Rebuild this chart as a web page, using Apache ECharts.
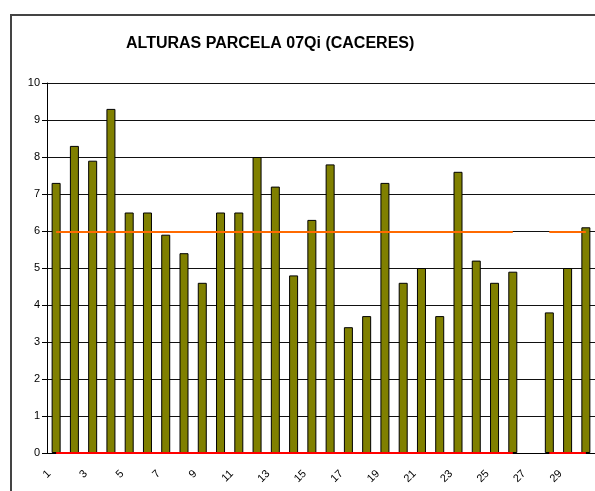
<!DOCTYPE html>
<html>
<head>
<meta charset="utf-8">
<script src="https://cdn.jsdelivr.net/npm/echarts@6/dist/echarts.min.js"></script>
<style>
  html, body { margin: 0; padding: 0; background: #fff; }
  #chart { width: 595px; height: 491px; }
</style>
</head>
<body>
<div id="chart"></div>
<script>
const categories = ['1','2','3','4','5','6','7','8','9','10','11','12','13','14','15',
  '16','17','18','19','20','21','22','23','24','25','26','27','28','29','30']
const heights = [7.3, 8.3, 7.9, 9.3, 6.5, 6.5, 5.9, 5.4, 4.6, 6.5, 6.5, 8.0, 7.2, 4.8, 6.3,
  7.8, 3.4, 3.7, 7.3, 4.6, 5.0, 3.7, 7.6, 5.2, 4.6, 4.9, null, 3.8, 5.0, 6.1]
const mean = [5.97, 5.97, 5.97, 5.97, 5.97, 5.97, 5.97, 5.97, 5.97, 5.97, 5.97, 5.97, 5.97, 5.97, 5.97,
  5.97, 5.97, 5.97, 5.97, 5.97, 5.97, 5.97, 5.97, 5.97, 5.97, 5.97, null, 5.97, 5.97, 5.97]
const base = [0, 0, 0, 0, 0, 0, 0, 0, 0, 0, 0, 0, 0, 0, 0,
  0, 0, 0, 0, 0, 0, 0, 0, 0, 0, 0, null, 0, 0, 0]

const chart = echarts.init(document.getElementById('chart'))

chart.setOption({
  animation: false,
  textStyle: { fontFamily: 'Liberation Sans, Arial, sans-serif' },
  title: {
    text: 'ALTURAS PARCELA 07Qi (CACERES)',
    left: 126,
    top: 36,
    padding: 0,
    textStyle: { fontSize: 16, fontWeight: 'bold', color: '#000' }
  },
  graphic: [{
    type: 'rect',
    shape: { x: 11, y: 15, width: 700, height: 600 },
    style: { fill: 'none', stroke: '#444', lineWidth: 2 },
    z: -1
  }],
  grid: { left: 47, top: 83, width: 550, height: 370 },
  xAxis: {
    type: 'category',
    data: categories,
    boundaryGap: true,
    axisLine: { lineStyle: { color: '#000', width: 1 } },
    axisTick: { interval: 0, length: 4, lineStyle: { color: '#000' } },
    axisLabel: {
      interval: 1, rotate: 45, fontSize: 11, color: '#000', margin: 12,
      padding: [0, 10, 0, 0]
    },
    splitLine: { show: false }
  },
  yAxis: {
    type: 'value',
    min: 0,
    max: 10,
    interval: 1,
    axisLine: { show: true, lineStyle: { color: '#000' } },
    axisTick: { show: true, length: 5, lineStyle: { color: '#000' } },
    axisLabel: { fontSize: 11, color: '#000', margin: 7 },
    splitLine: { lineStyle: { color: '#111', width: 1 } }
  },
  series: [
    {
      type: 'bar',
      data: heights,
      barWidth: 9,
      itemStyle: { color: '#808000', borderColor: '#000', borderWidth: 1 }
    },
    {
      type: 'line',
      data: mean,
      symbol: 'none',
      connectNulls: false,
      lineStyle: { color: '#FF6A00', width: 2 },
      z: 5
    },
    {
      type: 'line',
      data: base,
      symbol: 'none',
      connectNulls: false,
      lineStyle: { color: '#FF0000', width: 2 },
      z: 5
    }
  ]
})
</script>
</body>
</html>
